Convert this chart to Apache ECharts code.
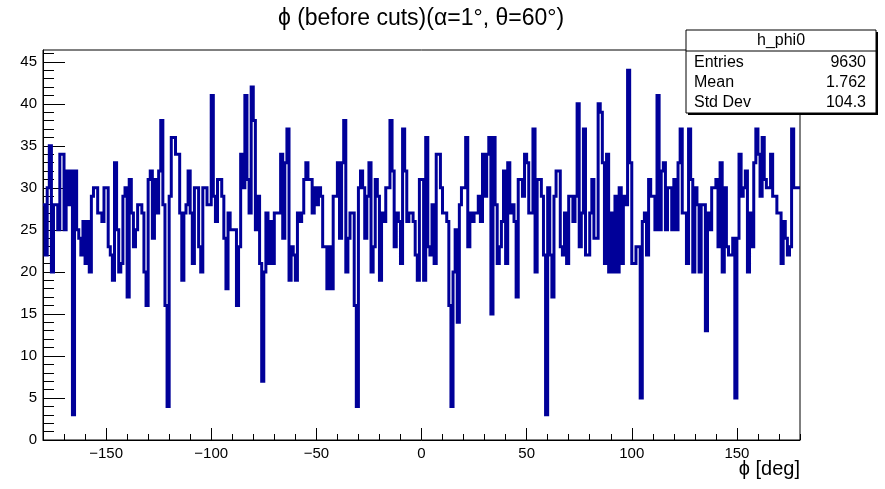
<!DOCTYPE html>
<html>
<head>
<meta charset="utf-8">
<script src="https://cdn.jsdelivr.net/npm/echarts@6/dist/echarts.min.js"></script>
<style>
  html, body { margin: 0; padding: 0; background: #fff; }
  #chart { width: 885px; height: 489px; }
</style>
</head>
<body>
<div id="chart"></div>
<script>
// h_phi0: counts per 1-degree bin of phi, from -180 to 180 deg
const binLow = -180;
const binWidth = 1;
const phiCounts = [
  28,22,30,35,20,28,28,25,34,34,25,32,28,32, 3,32,25,24,22,26,21,26,20,29,30,30,27,27,26,30,
  30,23,22,19,33,25,20,21,29,30,17,31,27,23,25,28,28,27,20,16,31,32,24,31,27,32,38,28,16, 4,
  29,36,36,34,34,27,19,27,28,32,27,21,30,30,23,20,30,30,28,28,41,29,26,31,31,29,24,18,27,25,
  25,25,16,23,34,30,41,31,27,42,38,25,29,21, 7,20,27,21,26,21,27,27,27,34,24,33,37,19,23,22,
  19,27,26,27,31,33,31,31,27,30,28,30,29,23,23,18,23,18,29,29,33,24,33,38,20,24,27,27,16, 4,
  30,32,30,24,29,33,20,23,31,29,19,27,26,30,30,38,32,23,27,26,21,37,32,26,27,27,26,22,19,31,
  31,19,36,23,22,28,21,34,34,30,27,27,26,16, 4,20,25,14,28,30,30,36,23,27,26,27,27,29,26,34,
  29,34,36,15,36,28,21,23,26,32,21,33,27,28,26,17,31,31,29,34,33,27,27,37,20,31,31,29,22, 3,
  30,22,17,29,32,32,23,22,27,21,29,29,26,29,40,23,27,37,22,22,27,31,24,24,40,39,33,21,34,20,
  27,20,29,20,30,21,29,28,44,33,21,21,23,23, 5,26,27,22,31,29,29,25,41,25,32,33,25,30,30,25,
  31,25,33,37,27,27,21,37,31,20,30,28,20,28,28,13,27,25,30,30,31,23,33,20,30,23,22,22,24, 5,
  24,34,29,30,32,20,27,23,33,37,34,29,36,31,30,30,34,29,29,27,27,21,26,24,22,23,37,30,30,30
];

// axis tick values
const xMajorTicks = [-150, -100, -50, 0, 50, 100, 150];
const xMinorTicks = [];
for (let v = -180; v <= 180; v += 10) xMinorTicks.push(v);
const yMajorTicks = [0, 5, 10, 15, 20, 25, 30, 35, 40, 45];
const yMinorTicks = [];
for (let v = 0; v <= 46; v += 1) yMinorTicks.push(v);

// statistics box text
const histName = 'h_phi0';
const statLabels = ['Entries', 'Mean', 'Std Dev'];
const statValues = ['9630', '1.762', '104.3'];

const titleText = '\u03d5 (before cuts)(\u03b1=1\u00b0, \u03b8=60\u00b0)';
const xTitle = '\u03d5 [deg]';

// step outline: one point per lower bin edge, plus the closing upper edge
const stepData = phiCounts.map((c, i) => [binLow + i * binWidth, c]);
stepData.push([binLow + phiCounts.length * binWidth, phiCounts[phiCounts.length - 1]]);

const FONT = '"Liberation Sans", Arial, Helvetica, sans-serif';
const minusFmt = v => (v < 0 ? '\u2212' + (-v) : String(v));

const chart = echarts.init(document.getElementById('chart'), null, { renderer: 'canvas' });

const gridL = 43, gridR = 800, gridT = 50, gridB = 440;

const statRows = statLabels.map((lab, i) => ([
  { type: 'text', z: 12, x: 694, y: 63 + i * 20,
    style: { text: lab, font: '16px ' + FONT, fill: '#000', textVerticalAlign: 'middle' } },
  { type: 'text', z: 12, x: 866, y: 63 + i * 20,
    style: { text: statValues[i], font: '16px ' + FONT, fill: '#000',
             textAlign: 'right', textVerticalAlign: 'middle' } }
])).flat();

chart.setOption({
  animation: false,
  backgroundColor: '#fff',
  grid: {
    left: gridL, right: 885 - gridR, top: gridT, bottom: 489 - gridB,
    show: true, borderColor: '#000', borderWidth: 1, backgroundColor: 'transparent'
  },
  xAxis: [
    {
      type: 'value', min: -180, max: 180, position: 'bottom',
      axisLine: { show: true, onZero: false, lineStyle: { color: '#000', width: 1 } },
      axisTick: { show: true, inside: true, length: 12, customValues: xMajorTicks,
                  lineStyle: { color: '#000', width: 1 } },
      axisLabel: { show: true, customValues: xMajorTicks, formatter: minusFmt,
                   color: '#000', fontFamily: FONT, fontSize: 15, margin: 6 },
      splitLine: { show: false }
    },
    {
      type: 'value', min: -180, max: 180, position: 'bottom',
      axisLine: { show: false, onZero: false },
      axisTick: { show: true, inside: true, length: 6, customValues: xMinorTicks,
                  lineStyle: { color: '#000', width: 1 } },
      axisLabel: { show: false },
      splitLine: { show: false }
    }
  ],
  yAxis: [
    {
      type: 'value', min: 0, max: 46.4, position: 'left',
      axisLine: { show: true, onZero: false, lineStyle: { color: '#000', width: 1 } },
      axisTick: { show: true, inside: true, length: 22, customValues: yMajorTicks,
                  lineStyle: { color: '#000', width: 1 } },
      axisLabel: { show: true, customValues: yMajorTicks, color: '#000',
                   fontFamily: FONT, fontSize: 15, margin: 6 },
      splitLine: { show: false }
    },
    {
      type: 'value', min: 0, max: 46.4, position: 'left',
      axisLine: { show: false, onZero: false },
      axisTick: { show: true, inside: true, length: 11, customValues: yMinorTicks,
                  lineStyle: { color: '#000', width: 1 } },
      axisLabel: { show: false },
      splitLine: { show: false }
    }
  ],
  series: [{
    type: 'line',
    xAxisIndex: 0, yAxisIndex: 0,
    step: 'end',
    data: stepData,
    showSymbol: false,
    symbol: 'none',
    lineStyle: { color: '#000099', width: 3, join: 'miter' },
    z: 5
  }],
  graphic: [
    { type: 'text', z: 12, x: 421, y: 19,
      style: { text: titleText, font: '23px ' + FONT, fill: '#000',
               textAlign: 'center', textVerticalAlign: 'middle' } },
    { type: 'text', z: 12, x: 800, y: 469,
      style: { text: xTitle, font: '20px ' + FONT, fill: '#000',
               textAlign: 'right', textVerticalAlign: 'middle' } },
    // stats box with drop shadow
    { type: 'rect', z: 10, shape: { x: 688, y: 32, width: 190, height: 83 },
      style: { fill: '#000' } },
    { type: 'rect', z: 11, shape: { x: 686, y: 30, width: 190, height: 83 },
      style: { fill: '#fff', stroke: '#000', lineWidth: 1 } },
    { type: 'line', z: 12, shape: { x1: 686, y1: 51, x2: 876, y2: 51 },
      style: { stroke: '#000', lineWidth: 1 } },
    { type: 'text', z: 12, x: 781, y: 41,
      style: { text: histName, font: '16px ' + FONT, fill: '#000',
               textAlign: 'center', textVerticalAlign: 'middle' } }
  ].concat(statRows)
});
</script>
</body>
</html>
